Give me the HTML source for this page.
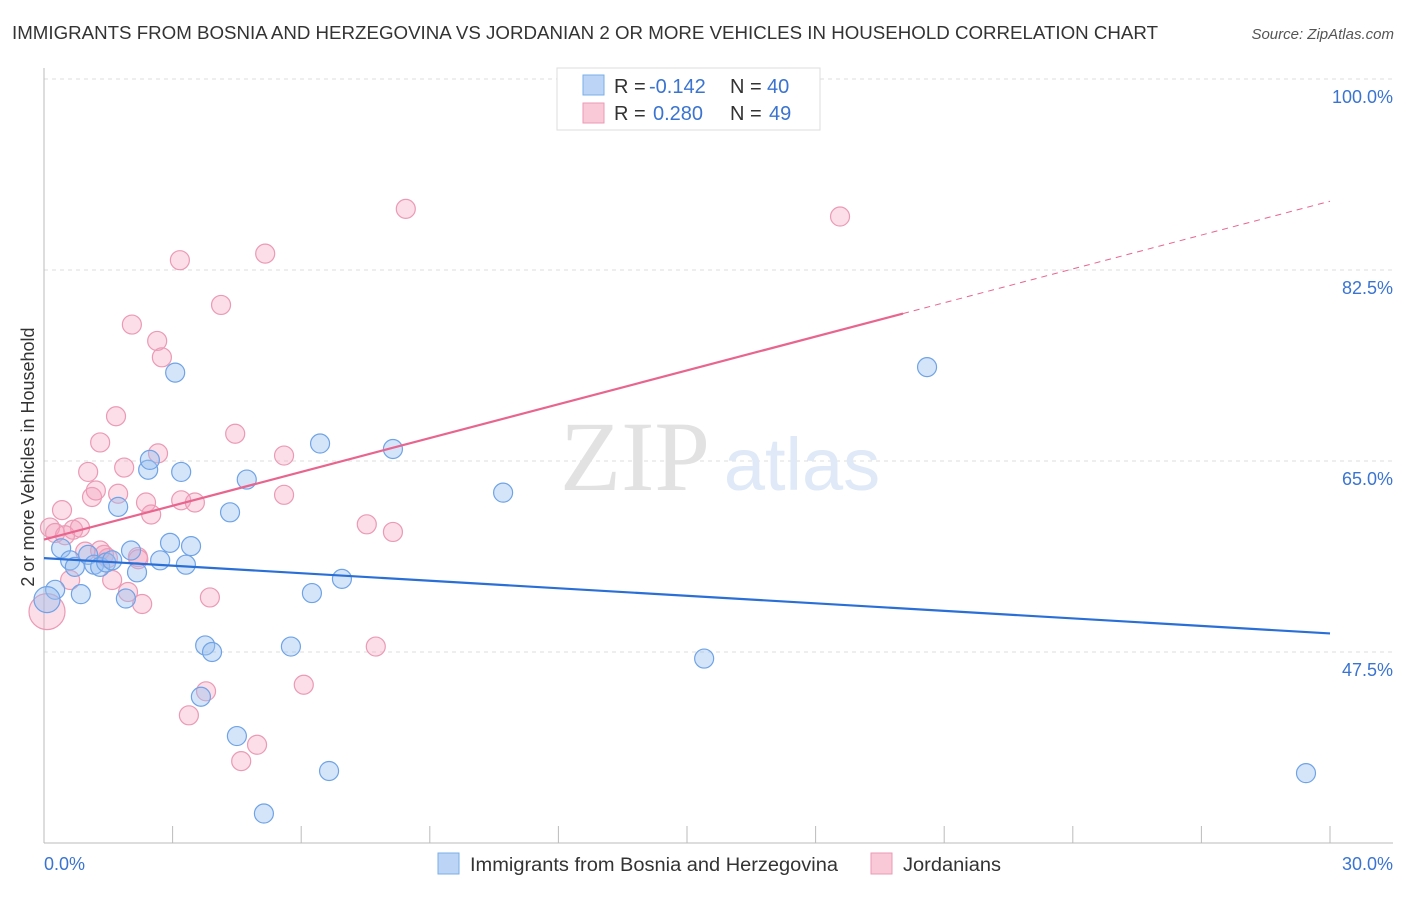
<!DOCTYPE html>
<html><head><meta charset="utf-8"><style>
body{margin:0;background:#fff;font-family:"Liberation Sans",sans-serif;}
svg text{font-family:"Liberation Sans",sans-serif;}
</style></head><body>
<svg id="chart" width="1406" height="892" xmlns="http://www.w3.org/2000/svg">
<text x="12" y="39" font-size="18" fill="#333" textLength="1146" lengthAdjust="spacingAndGlyphs">IMMIGRANTS FROM BOSNIA AND HERZEGOVINA VS JORDANIAN 2 OR MORE VEHICLES IN HOUSEHOLD CORRELATION CHART</text>
<text x="1394" y="39" font-size="15" fill="#555" font-style="italic" text-anchor="end">Source: ZipAtlas.com</text>
<g id="grid"></g>
<text x="635" y="490" font-size="100" fill="#e2e2e2" text-anchor="middle" style="font-family:'Liberation Serif',serif">ZIP</text>
<text x="802" y="490" font-size="74" fill="#dfe9f7" text-anchor="middle">atlas</text>
<g id="pts"></g>
<g id="lines"></g>
<text transform="translate(34,457) rotate(-90)" font-size="18" fill="#333" text-anchor="middle">2 or more Vehicles in Household</text>
<g>
<rect x="557" y="68" width="263" height="62" fill="#fff" stroke="#ddd"/>
<rect x="583" y="75" width="21" height="20" fill="#bcd4f5" stroke="#7aaee8"/>
<rect x="583" y="103" width="21" height="20" fill="#f9c9d7" stroke="#eb9ab5"/>
<text x="614" y="93" font-size="20" fill="#333">R = <tspan x="649" fill="#3a74d0">-0.142</tspan><tspan x="730">N = </tspan><tspan x="767" fill="#3a74d0">40</tspan></text>
<text x="614" y="120" font-size="20" fill="#333">R = <tspan x="653" fill="#3a74d0">0.280</tspan><tspan x="730">N = </tspan><tspan x="769" fill="#3a74d0">49</tspan></text>
</g>
<g>
<rect x="438" y="853" width="21" height="21" fill="#bcd4f5" stroke="#7aaee8"/>
<text x="470" y="871" font-size="19" fill="#333" textLength="368" lengthAdjust="spacingAndGlyphs">Immigrants from Bosnia and Herzegovina</text>
<rect x="871" y="853" width="21" height="21" fill="#f9c9d7" stroke="#eb9ab5"/>
<text x="903" y="871" font-size="19" fill="#333" textLength="98" lengthAdjust="spacingAndGlyphs">Jordanians</text>
</g>
</svg>
<script>
const yTicks=[100,82.5,65,47.5];
const xTickLabels=["0.0%","30.0%"];
const blueX=[0.26,0.07,0.40,0.61,0.72,0.86,1.03,1.17,1.31,1.45,1.59,1.73,1.91,2.03,2.17,2.43,2.47,2.71,2.94,3.06,3.20,3.31,3.43,3.76,3.92,3.66,4.34,4.50,4.73,5.13,5.76,6.25,6.44,6.65,6.95,8.14,10.71,15.40,20.60,29.44];
const blueY=[53.2,52.3,57.0,55.9,55.3,52.8,56.4,55.5,55.3,55.7,55.9,60.8,52.4,56.8,54.8,64.2,65.1,55.9,57.5,73.1,64.0,55.5,57.2,48.1,47.5,43.4,60.3,39.8,63.3,32.7,48.0,52.9,66.6,36.6,54.2,66.1,62.1,46.9,73.6,36.4];
const pinkX=[0.07,0.14,0.26,0.42,0.61,0.68,0.84,0.96,1.03,1.12,1.21,1.31,1.40,1.49,1.59,1.68,1.73,1.87,1.96,2.05,2.19,2.29,2.38,2.50,2.64,2.66,2.75,3.17,3.20,3.38,3.52,3.78,3.87,4.13,4.46,4.60,4.97,5.16,5.60,5.60,6.06,7.53,7.74,8.14,8.44,18.57,0.49,1.31,2.2];
const pinkY=[51.2,58.9,58.4,60.5,54.1,58.7,58.9,56.7,64.0,61.7,62.3,66.7,56.4,56.1,54.1,69.1,62.0,64.4,53.0,77.5,56.2,51.9,61.2,60.1,76.0,65.7,74.5,83.4,61.4,41.7,61.2,43.9,52.5,79.3,67.5,37.5,39.0,84.0,65.5,61.9,44.5,59.2,48.0,58.5,88.1,87.4,58.2,56.8,56.0];
const blueTrend=[56.1,49.2];
const pinkTrend=[57.8,88.8];
const pinkSolidEnd=20.04;
const NS="http://www.w3.org/2000/svg";
const X=v=>44+v*(1286/30);
const Y=v=>79+(100-v)*(191/17.5);
function mk(t,a,p){const e=document.createElementNS(NS,t);for(const k in a)e.setAttribute(k,a[k]);p.appendChild(e);return e;}
const grid=document.getElementById('grid');
yTicks.forEach((t,i)=>{
 const l=mk('line',{x1:44,x2:1393,y1:Y(t),y2:Y(t),stroke:'#ddd','stroke-dasharray':'4,4'},grid);
 
 
 const tx=mk('text',{x:1393,y:Y(t)+24,'font-size':18,fill:'#3a74d0','text-anchor':'end'},grid);
 tx.textContent=t.toFixed(1)+'%';
 
 
});
const ax=mk('line',{x1:44,x2:44,y1:68,y2:843,stroke:'#bbb'},grid);


const bx=mk('line',{x1:44,x2:1393,y1:843,y2:843,stroke:'#bbb'},grid);


for(let i=0;i<=10;i++){const v=i*3;
 const t=mk('line',{x1:X(v),x2:X(v),y1:826,y2:843,stroke:'#bbb'},grid);
 
 }
[0,1].forEach(i=>{
 const t=mk('text',{x:i?1393:44,y:870,'font-size':18,fill:'#3a74d0','text-anchor':i?'end':'start'},grid);
 t.textContent=xTickLabels[i];
 
 
});
const pts=document.getElementById('pts');
pinkX.forEach((x,i)=>{
 const c=mk('circle',{cx:X(x),cy:Y(pinkY[i]),r:i===0?18:9.5,fill:'rgba(243,160,188,0.35)',stroke:'#eb9ab5','stroke-width':1.2},pts);
 
 
});
blueX.forEach((x,i)=>{
 const c=mk('circle',{cx:X(x),cy:Y(blueY[i]),r:i===1?13:9.5,fill:'rgba(150,190,240,0.4)',stroke:'#6fa3e6','stroke-width':1.2},pts);
 
 
});
const lines=document.getElementById('lines');
const bl=mk('line',{x1:X(0),y1:Y(blueTrend[0]),x2:X(30),y2:Y(blueTrend[1]),stroke:'#2a6fd6','stroke-width':2.2},lines);


const pm=(pinkTrend[1]-pinkTrend[0])/30;
const ps=mk('line',{x1:X(0),y1:Y(pinkTrend[0]),x2:X(pinkSolidEnd),y2:Y(pinkTrend[0]+pm*pinkSolidEnd),stroke:'#e8658f','stroke-width':2.2},lines);


const pd=mk('line',{x1:X(pinkSolidEnd),y1:Y(pinkTrend[0]+pm*pinkSolidEnd),x2:X(30),y2:Y(pinkTrend[1]),stroke:'#e8658f','stroke-width':1,'stroke-dasharray':'6,5'},lines);


</script>
</body></html>
